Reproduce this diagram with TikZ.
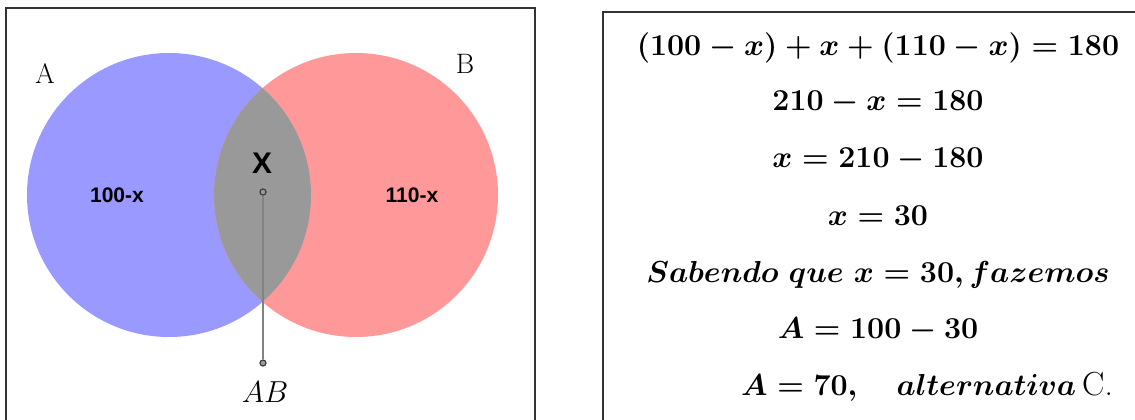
\documentclass[tikz,border=0pt]{standalone}
\usepackage{amsmath, amssymb}
\usepackage{fontspec}
\newfontfamily\arialfont{Liberation Sans}
\usepackage{xcolor}
\usetikzlibrary{positioning}

\definecolor{setblue}{HTML}{9999FF}
\definecolor{setred}{HTML}{FF9999}
\definecolor{setgray}{HTML}{999999}
\definecolor{framegray}{HTML}{333333}

\begin{document}
\begin{tikzpicture}[
    x=0.02cm, y=-0.02cm,
    frame/.style={draw=framegray, line width=1.1pt},
    setlbl/.style={font=\fontsize{16}{18}\selectfont, anchor=base},
    region/.style={font=\arialfont\bfseries\fontsize{12}{14}\selectfont},
    pin/.style={circle, draw=framegray, fill=setgray, line width=0.6pt, inner sep=0pt, minimum size=3.5pt},
    eq/.style={font=\fontsize{19}{22}\selectfont\boldmath, anchor=base},
]
\useasboundingbox (0,0) rectangle (1135,419);
\clip (0,0) rectangle (1135,419);

% left panel: Venn diagram
\draw[frame] (6,8) rectangle (535,440);
\fill[setblue] (169,195) circle (142);
\fill[setred] (356,195) circle (142);
\begin{scope}
    \clip (169,195) circle (142);
    \fill[setgray] (356,195) circle (142);
\end{scope}

\node[setlbl] (labA) at (45,83) {A};
\node[setlbl] (labB) at (465,73) {B};
\node[region] (onlyA) at (117,195) {100-x};
\node[region] (onlyB) at (412,195) {110-x};
\node[font=\arialfont\bfseries\fontsize{17}{19}\selectfont] (inter) at (262,163) {X};

\node[pin] (pinTop) at (263,192) {};
\node[pin] (pinBot) at (263,363) {};
\draw[setgray!85!black, line width=1.1pt] (pinTop) -- (pinBot);
\node[setlbl] (labAB) at (265,402) {$AB$};

% right panel: solution
\draw[frame] (603,12) rectangle (1150,440);
\node[eq] (l1) at (878,55) {$(100-x)+x+(110-x)=180$};
\node[eq] (l2) at (878,110) {$210-x=180$};
\node[eq] (l3) at (878,167) {$x=210-180$};
\node[eq] (l4) at (878,225) {$x=30$};
\node[eq] (l5) at (878,282) {$Sabendo\ que\ x=30, fazemos$};
\node[eq] (l6) at (878,338) {$A=100-30$};
\node[eq, anchor=base west] (l7) at (735,395) {$A=70,\quad alternativa\,$C.};

\end{tikzpicture}
\end{document}
